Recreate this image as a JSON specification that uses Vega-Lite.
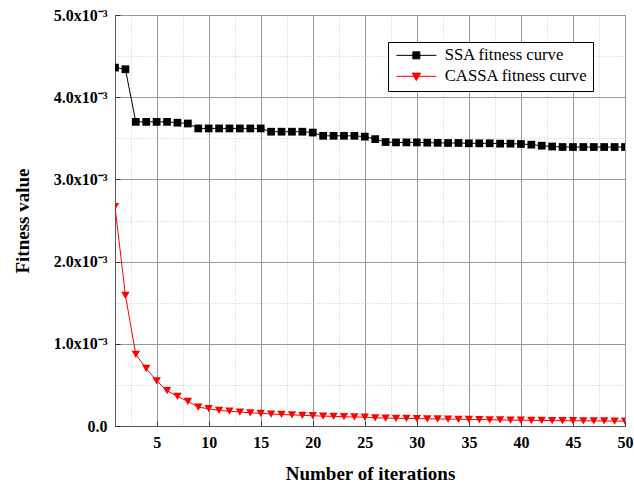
{
  "$schema": "https://vega.github.io/schema/vega-lite/v6.json",
  "width": 510,
  "height": 411,
  "autosize": {"type": "none"},
  "padding": {"left": 115, "top": 15, "right": 9, "bottom": 65},
  "background": "white",
  "config": {
    "view": {"stroke": "#555", "strokeWidth": 1},
    "font": "Liberation Serif"
  },
  "data": {
    "values": [
      {"iter": 1, "series": "SSA fitness curve", "value": 0.00436},
      {"iter": 2, "series": "SSA fitness curve", "value": 0.00434},
      {"iter": 3, "series": "SSA fitness curve", "value": 0.00370},
      {"iter": 4, "series": "SSA fitness curve", "value": 0.00370},
      {"iter": 5, "series": "SSA fitness curve", "value": 0.00370},
      {"iter": 6, "series": "SSA fitness curve", "value": 0.00370},
      {"iter": 7, "series": "SSA fitness curve", "value": 0.00369},
      {"iter": 8, "series": "SSA fitness curve", "value": 0.00368},
      {"iter": 9, "series": "SSA fitness curve", "value": 0.00362},
      {"iter": 10, "series": "SSA fitness curve", "value": 0.00362},
      {"iter": 11, "series": "SSA fitness curve", "value": 0.00362},
      {"iter": 12, "series": "SSA fitness curve", "value": 0.00362},
      {"iter": 13, "series": "SSA fitness curve", "value": 0.00362},
      {"iter": 14, "series": "SSA fitness curve", "value": 0.00362},
      {"iter": 15, "series": "SSA fitness curve", "value": 0.00362},
      {"iter": 16, "series": "SSA fitness curve", "value": 0.00358},
      {"iter": 17, "series": "SSA fitness curve", "value": 0.00358},
      {"iter": 18, "series": "SSA fitness curve", "value": 0.00358},
      {"iter": 19, "series": "SSA fitness curve", "value": 0.00358},
      {"iter": 20, "series": "SSA fitness curve", "value": 0.00357},
      {"iter": 21, "series": "SSA fitness curve", "value": 0.00353},
      {"iter": 22, "series": "SSA fitness curve", "value": 0.00353},
      {"iter": 23, "series": "SSA fitness curve", "value": 0.00353},
      {"iter": 24, "series": "SSA fitness curve", "value": 0.00353},
      {"iter": 25, "series": "SSA fitness curve", "value": 0.00352},
      {"iter": 26, "series": "SSA fitness curve", "value": 0.00349},
      {"iter": 27, "series": "SSA fitness curve", "value": 0.003455},
      {"iter": 28, "series": "SSA fitness curve", "value": 0.00345},
      {"iter": 29, "series": "SSA fitness curve", "value": 0.00345},
      {"iter": 30, "series": "SSA fitness curve", "value": 0.00345},
      {"iter": 31, "series": "SSA fitness curve", "value": 0.003447},
      {"iter": 32, "series": "SSA fitness curve", "value": 0.003445},
      {"iter": 33, "series": "SSA fitness curve", "value": 0.003443},
      {"iter": 34, "series": "SSA fitness curve", "value": 0.003443},
      {"iter": 35, "series": "SSA fitness curve", "value": 0.003439},
      {"iter": 36, "series": "SSA fitness curve", "value": 0.003439},
      {"iter": 37, "series": "SSA fitness curve", "value": 0.003439},
      {"iter": 38, "series": "SSA fitness curve", "value": 0.003435},
      {"iter": 39, "series": "SSA fitness curve", "value": 0.003435},
      {"iter": 40, "series": "SSA fitness curve", "value": 0.003431},
      {"iter": 41, "series": "SSA fitness curve", "value": 0.003423},
      {"iter": 42, "series": "SSA fitness curve", "value": 0.00341},
      {"iter": 43, "series": "SSA fitness curve", "value": 0.00340},
      {"iter": 44, "series": "SSA fitness curve", "value": 0.003394},
      {"iter": 45, "series": "SSA fitness curve", "value": 0.003394},
      {"iter": 46, "series": "SSA fitness curve", "value": 0.003394},
      {"iter": 47, "series": "SSA fitness curve", "value": 0.003394},
      {"iter": 48, "series": "SSA fitness curve", "value": 0.003394},
      {"iter": 49, "series": "SSA fitness curve", "value": 0.003394},
      {"iter": 50, "series": "SSA fitness curve", "value": 0.003394},
      {"iter": 1, "series": "CASSA fitness curve", "value": 0.00267},
      {"iter": 2, "series": "CASSA fitness curve", "value": 0.00159},
      {"iter": 3, "series": "CASSA fitness curve", "value": 0.00087},
      {"iter": 4, "series": "CASSA fitness curve", "value": 0.00070},
      {"iter": 5, "series": "CASSA fitness curve", "value": 0.00055},
      {"iter": 6, "series": "CASSA fitness curve", "value": 0.00043},
      {"iter": 7, "series": "CASSA fitness curve", "value": 0.00036},
      {"iter": 8, "series": "CASSA fitness curve", "value": 0.00030},
      {"iter": 9, "series": "CASSA fitness curve", "value": 0.00023},
      {"iter": 10, "series": "CASSA fitness curve", "value": 0.00021},
      {"iter": 11, "series": "CASSA fitness curve", "value": 0.00019},
      {"iter": 12, "series": "CASSA fitness curve", "value": 0.00018},
      {"iter": 13, "series": "CASSA fitness curve", "value": 0.00017},
      {"iter": 14, "series": "CASSA fitness curve", "value": 0.00016},
      {"iter": 15, "series": "CASSA fitness curve", "value": 0.000155},
      {"iter": 16, "series": "CASSA fitness curve", "value": 0.000145},
      {"iter": 17, "series": "CASSA fitness curve", "value": 0.00014},
      {"iter": 18, "series": "CASSA fitness curve", "value": 0.000135},
      {"iter": 19, "series": "CASSA fitness curve", "value": 0.00013},
      {"iter": 20, "series": "CASSA fitness curve", "value": 0.000125},
      {"iter": 21, "series": "CASSA fitness curve", "value": 0.00012},
      {"iter": 22, "series": "CASSA fitness curve", "value": 0.000117},
      {"iter": 23, "series": "CASSA fitness curve", "value": 0.000113},
      {"iter": 24, "series": "CASSA fitness curve", "value": 0.00011},
      {"iter": 25, "series": "CASSA fitness curve", "value": 0.000108},
      {"iter": 26, "series": "CASSA fitness curve", "value": 0.0001},
      {"iter": 27, "series": "CASSA fitness curve", "value": 0.000097},
      {"iter": 28, "series": "CASSA fitness curve", "value": 0.000094},
      {"iter": 29, "series": "CASSA fitness curve", "value": 0.000092},
      {"iter": 30, "series": "CASSA fitness curve", "value": 0.00009},
      {"iter": 31, "series": "CASSA fitness curve", "value": 0.000088},
      {"iter": 32, "series": "CASSA fitness curve", "value": 0.000086},
      {"iter": 33, "series": "CASSA fitness curve", "value": 0.000084},
      {"iter": 34, "series": "CASSA fitness curve", "value": 0.000082},
      {"iter": 35, "series": "CASSA fitness curve", "value": 0.00008},
      {"iter": 36, "series": "CASSA fitness curve", "value": 0.000078},
      {"iter": 37, "series": "CASSA fitness curve", "value": 0.000076},
      {"iter": 38, "series": "CASSA fitness curve", "value": 0.000074},
      {"iter": 39, "series": "CASSA fitness curve", "value": 0.000072},
      {"iter": 40, "series": "CASSA fitness curve", "value": 0.00007},
      {"iter": 41, "series": "CASSA fitness curve", "value": 0.000069},
      {"iter": 42, "series": "CASSA fitness curve", "value": 0.000068},
      {"iter": 43, "series": "CASSA fitness curve", "value": 0.000066},
      {"iter": 44, "series": "CASSA fitness curve", "value": 0.000065},
      {"iter": 45, "series": "CASSA fitness curve", "value": 0.000064},
      {"iter": 46, "series": "CASSA fitness curve", "value": 0.000063},
      {"iter": 47, "series": "CASSA fitness curve", "value": 0.000062},
      {"iter": 48, "series": "CASSA fitness curve", "value": 0.000061},
      {"iter": 49, "series": "CASSA fitness curve", "value": 0.00006},
      {"iter": 50, "series": "CASSA fitness curve", "value": 0.00006}
    ]
  },
  "encoding": {
    "x": {
      "field": "iter",
      "type": "quantitative",
      "scale": {"domain": [1, 50], "nice": false, "zero": false},
      "axis": {
        "title": "Number of iterations",
        "titleFont": "Liberation Serif",
        "titleFontSize": 19,
        "titleFontWeight": "bold",
        "titleColor": "black",
        "titlePadding": 14,
        "values": [2.5, 5, 7.5, 10, 12.5, 15, 17.5, 20, 22.5, 25, 27.5, 30, 32.5, 35, 37.5, 40, 42.5, 45, 47.5, 50],
        "labelExpr": "datum.value % 5 === 0 ? datum.label : ''",
        "labelFont": "Liberation Serif",
        "labelFontSize": 16,
        "labelFontWeight": "bold",
        "labelColor": "black",
        "labelPadding": 13,
        "labelFlush": false,
        "labelOverlap": false,
        "domainColor": "#555",
        "tickColor": "#333",
        "tickSize": -5,
        "tickOpacity": {"condition": {"test": "datum.value % 5 === 0", "value": 1}, "value": 0},
        "grid": true,
        "gridColor": {"condition": {"test": "datum.value % 5 === 0", "value": "#999"}, "value": "#c8c8c8"},
        "gridDash": {"condition": {"test": "datum.value % 5 === 0", "value": []}, "value": [1, 2]},
        "gridWidth": 1,
        "gridOpacity": 1
      }
    },
    "y": {
      "field": "value",
      "type": "quantitative",
      "scale": {"domain": [0, 0.005], "nice": false},
      "axis": {
        "title": "Fitness value",
        "titleFont": "Liberation Serif",
        "titleFontSize": 19,
        "titleFontWeight": "bold",
        "titleColor": "black",
        "titlePadding": 21,
        "values": [0, 0.0005, 0.001, 0.0015, 0.002, 0.0025, 0.003, 0.0035, 0.004, 0.0045, 0.005],
        "labelExpr": "round(datum.value * 2000) % 2 !== 0 ? '' : (datum.value === 0 ? '0.0' : format(datum.value * 1000, '.1f') + 'x10⁻³')",
        "labelFont": "Liberation Serif",
        "labelFontSize": 16,
        "labelFontWeight": "bold",
        "labelColor": "black",
        "labelPadding": 13,
        "labelFlush": false,
        "labelOverlap": false,
        "domainColor": "#555",
        "tickColor": "#333",
        "tickSize": -5,
        "tickOpacity": {"condition": {"test": "round(datum.value * 2000) % 2 === 0", "value": 1}, "value": 0},
        "grid": true,
        "gridColor": {"condition": {"test": "round(datum.value * 2000) % 2 === 0", "value": "#999"}, "value": "#c8c8c8"},
        "gridDash": {"condition": {"test": "round(datum.value * 2000) % 2 === 0", "value": []}, "value": [1, 2]},
        "gridWidth": 1,
        "gridOpacity": 1
      }
    }
  },
  "layer": [
    {
      "mark": {"type": "line", "strokeWidth": 1, "clip": true},
      "encoding": {
        "stroke": {
          "field": "series",
          "type": "nominal",
          "scale": {"domain": ["SSA fitness curve", "CASSA fitness curve"], "range": ["black", "red"]},
          "legend": {
            "title": null,
            "orient": "none",
            "legendX": 273,
            "legendY": 27,
            "strokeColor": "black",
            "fillColor": "white",
            "padding": 5,
            "labelFont": "Liberation Serif",
            "labelFontSize": 16.7,
            "labelColor": "black",
            "labelOffset": 35,
            "symbolSize": 100,
            "rowPadding": 3,
            "encode": {
              "symbols": {
                "update": {
                  "shape": {"signal": "datum.value === 'SSA fitness curve' ? 'M-1,0H7M2.3,-0.7H3.7V0.7H2.3Z' : 'M-1,0H7M2.15,-0.65H3.85L3,0.85Z'"},
                  "size": {"value": 100},
                  "fill": {"signal": "datum.value === 'SSA fitness curve' ? 'black' : 'red'"},
                  "strokeWidth": {"value": 1},
                  "opacity": {"value": 1}
                }
              }
            }
          }
        }
      }
    },
    {
      "transform": [{"filter": "datum.series === 'SSA fitness curve'"}],
      "mark": {"type": "point", "filled": true, "shape": "square", "color": "black", "size": 60, "opacity": 1, "clip": true}
    },
    {
      "transform": [{"filter": "datum.series === 'CASSA fitness curve'"}],
      "mark": {"type": "point", "filled": true, "shape": "triangle-down", "color": "red", "size": 70, "opacity": 1, "clip": true}
    }
  ]
}
